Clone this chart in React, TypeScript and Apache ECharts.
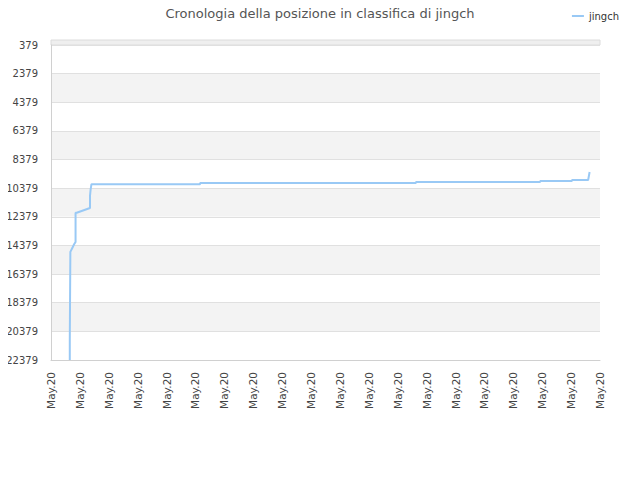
import React, { useEffect, useRef } from "react";
import * as echarts from "echarts";

// posizioni sull'asse x (0 = prima etichetta, 19 = ultima)
const pointX = [
  0.65, 0.65, 0.67, 0.67, 0.75, 0.8, 0.85, 0.85, 0.89, 1.35, 1.35, 1.37, 1.4,
  5.16, 5.16, 12.63, 12.63, 16.93, 16.93, 18.03, 18.03, 18.59, 18.64,
];
const rankValues = [
  22379, 20984, 20984, 14827, 14500, 14300, 14130, 12094, 12094, 11759, 10900,
  10500, 10100, 10100, 10020, 10020, 9950, 9950, 9880, 9880, 9810, 9810, 9250,
];
const xLabels = Array.from({ length: 20 }, () => "May.20");
const seriesName = "jingch";

const FONT = "DejaVu Sans";

const App: React.FC = () => {
  const chartRef = useRef<HTMLDivElement | null>(null);

  useEffect(() => {
    if (!chartRef.current) return;
    const chart = echarts.init(chartRef.current, undefined, { renderer: "svg" });

    const option = {
      animation: false,
      title: {
        text: "Cronologia della posizione in classifica di jingch",
        left: "center",
        top: 2,
        textStyle: { fontFamily: FONT, fontSize: 13, fontWeight: "normal", color: "#555" },
      },
      legend: {
        right: 16,
        top: 6,
        itemWidth: 12,
        itemHeight: 2,
        itemGap: 8,
        icon: "rect",
        textStyle: { fontFamily: FONT, fontSize: 10, color: "#333" },
        data: [seriesName],
      },
      grid: { left: 51, right: 40, top: 45, bottom: 120, containLabel: false },
      graphic: [
        {
          type: "rect",
          shape: { x: 51, y: 40, width: 549, height: 5 },
          style: { fill: "#efefef", stroke: "#dcdcdc", lineWidth: 1 },
          silent: true,
        },
      ],
      xAxis: {
        type: "value",
        min: 0,
        max: 19,
        interval: 1,
        axisLine: { show: true, lineStyle: { color: "#d0d0d0" } },
        axisTick: { show: false },
        splitLine: { show: false },
        axisLabel: {
          rotate: 90,
          margin: 12,
          fontFamily: FONT,
          fontSize: 10.5,
          color: "#444",
          formatter: (v: number) => xLabels[Math.round(v)] ?? "",
        },
      },
      yAxis: {
        type: "value",
        inverse: true,
        min: 379,
        max: 22379,
        interval: 2000,
        axisLine: { show: true, lineStyle: { color: "#d0d0d0" } },
        axisTick: { show: false },
        axisLabel: {
          fontFamily: FONT,
          fontSize: 10,
          color: "#444",
          margin: 13,
          formatter: (v: number) => String(v),
        },
        splitLine: { show: true, lineStyle: { color: "#e0e0e0" } },
        splitArea: { show: true, areaStyle: { color: ["#ffffff", "#f3f3f3"] } },
      },
      series: [
        {
          name: seriesName,
          type: "line",
          showSymbol: false,
          symbol: "none",
          lineStyle: { color: "#99c9f5", width: 2 },
          itemStyle: { color: "#99c9f5" },
          data: pointX.map((x, i) => [x, rankValues[i]]),
        },
      ],
    };

    chart.setOption(option);
    return () => {
      chart.dispose();
    };
  }, []);

  return <div ref={chartRef} style={{ width: "640px", height: "480px", margin: "-8px" }} />;
};

export default App;
